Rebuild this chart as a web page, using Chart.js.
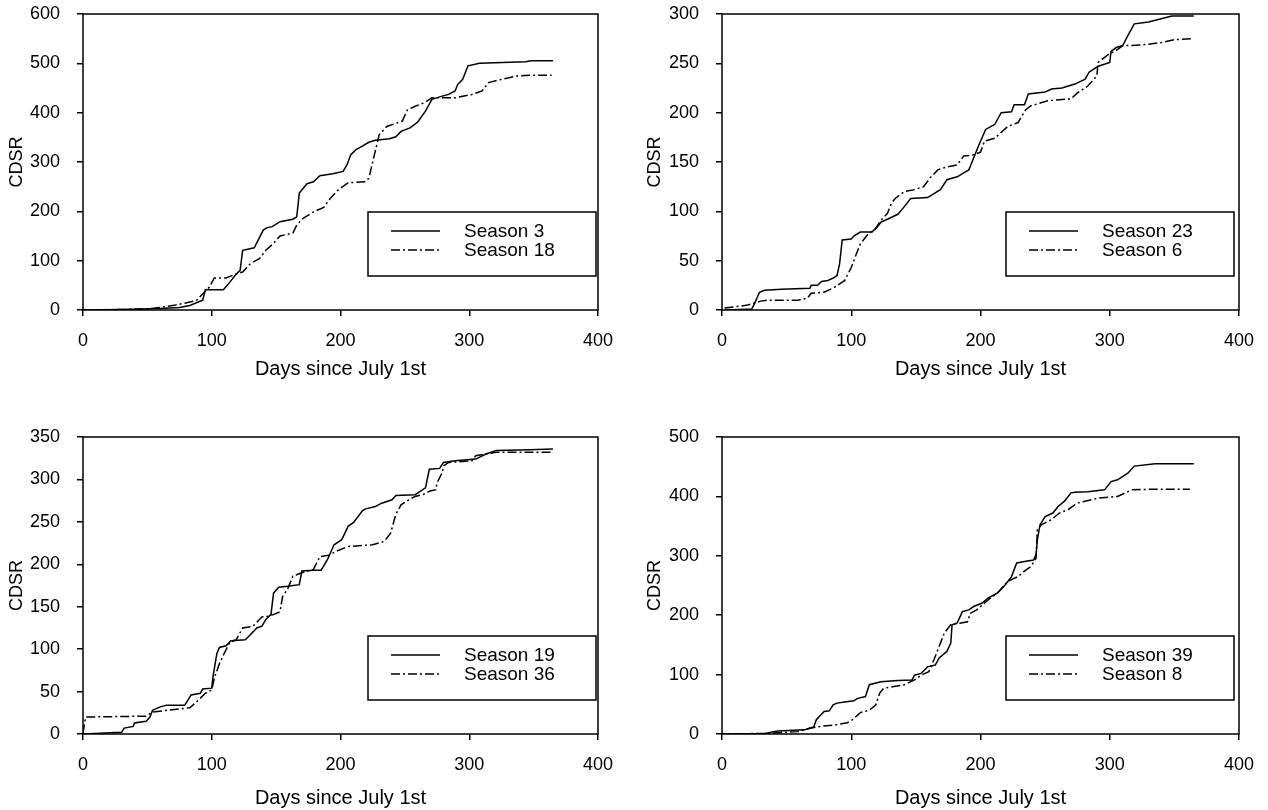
<!DOCTYPE html>
<html><head><meta charset="utf-8">
<script src="https://cdn.jsdelivr.net/npm/chart.js@4.4.0/dist/chart.umd.min.js"></script>
<style>
html,body{margin:0;padding:0;background:#fff;}
body{width:1268px;height:810px;position:relative;overflow:hidden;}
.panel{position:absolute;width:634px;height:405px;}
</style></head><body>
<div class="panel" style="left:0;top:0"><canvas id="c1" width="634" height="405"></canvas></div>
<div class="panel" style="left:634px;top:0"><canvas id="c2" width="634" height="405"></canvas></div>
<div class="panel" style="left:0;top:405px"><canvas id="c3" width="634" height="405"></canvas></div>
<div class="panel" style="left:634px;top:405px"><canvas id="c4" width="634" height="405"></canvas></div>
<script>
// ---------- data ----------
const xTicks = [0, 100, 200, 300, 400];
const xTitle = 'Days since July 1st';
const yTitle = 'CDSR';

// Panel 1
const p1Labels = ['Season 3', 'Season 18'];
const p1aDays = [0,30,60,75,83,93,95,109,113,119,122,124,133,140,143,147,153,163,166,168,174,179,184,194,202,205,208,212,217,222,227,238,243,247,254,260,266,271,277,284,289,291,295,299,308,344,348,365];
const p1aVals = [0,1,3,5,9,20,41,41,53,73,80,121,126,162,167,169,179,184,189,237,256,260,272,276,281,294,315,325,332,340,344,347,351,362,369,381,403,427,432,437,444,457,468,495,500,503,505,505];
const p1bDays = [0,30,49,60,72,88,98,102,111,119,124,130,137,142,148,153,163,166,171,179,187,192,198,206,219,222,226,230,236,248,252,258,265,271,289,302,310,315,326,336,347,364];
const p1bVals = [0,1,2,5,10,19,46,65,65,73,77,94,104,121,135,150,156,172,186,199,208,226,243,258,260,267,311,355,372,383,406,413,420,430,430,437,444,461,468,474,476,476];
const p1YMax = 600, p1YStep = 100;

// Panel 2
const p2Labels = ['Season 23', 'Season 6'];
const p2aDays = [2,23,25,29,33,46,68,69,74,77,82,87,89,91,93,100,102,107,116,120,123,128,136,140,146,159,164,169,174,182,187,191,195,199,204,211,216,224,226,234,237,250,255,263,273,281,284,291,300,301,305,310,314,319,330,336,348,365];
const p2aVals = [0,1,6,18,20,21,22,25,25,29,30,33,35,47,71,72,75,79,79,84,89,92,97,103,113,114,118,122,132,135,139,142,155,168,183,188,200,201,208,208,219,221,224,225,229,234,241,247,251,262,266,268,278,290,292,294,298,298];
const p2bDays = [2,20,30,35,59,66,69,79,87,95,100,104,107,113,118,123,128,131,134,141,149,156,161,167,174,182,187,194,200,203,211,221,229,235,239,252,270,275,283,290,291,299,306,310,317,327,340,350,363];
const p2bVals = [2,5,9,10,10,12,17,18,23,30,43,57,67,77,81,91,98,108,113,120,122,125,134,142,145,147,156,157,160,171,174,186,190,203,207,212,214,220,227,237,251,259,264,268,268,269,271,274,275];
const p2YMax = 300, p2YStep = 50;

// Panel 3
const p3Labels = ['Season 19', 'Season 36'];
const p3aDays = [0,13,30,32,39,40,49,52,54,60,65,79,84,91,93,100,101,104,106,111,115,126,130,135,139,142,146,148,152,159,168,170,179,185,190,195,201,206,210,217,219,227,232,240,243,258,266,269,277,280,289,305,313,321,347,365];
const p3aVals = [0,1,2,7,9,13,15,20,28,32,34,34,46,48,53,54,68,95,102,104,110,111,117,125,127,135,141,166,173,174,176,192,193,193,206,223,229,245,249,263,265,268,272,276,281,282,290,312,313,320,322,324,330,334,335,336];
const p3bDays = [0,2,49,52,54,78,83,89,95,100,102,106,110,114,119,124,132,139,145,153,155,159,163,170,179,184,192,196,206,225,234,239,243,247,253,258,264,269,274,275,279,280,284,302,305,313,321,364];
const p3bVals = [1,20,21,24,26,30,31,39,48,52,66,83,96,108,111,125,127,138,139,144,162,171,186,190,194,209,211,215,221,223,227,237,259,270,276,280,282,286,288,296,308,316,320,322,328,330,332,332];
const p3YMax = 350, p3YStep = 50;

// Panel 4
const p4Labels = ['Season 39', 'Season 8'];
const p4aDays = [0,33,43,64,68,71,73,79,83,86,89,95,102,105,111,114,123,136,147,149,154,159,165,168,174,177,178,182,186,191,195,201,206,213,219,224,228,233,241,243,244,246,250,256,260,265,270,273,283,296,301,306,314,319,335,365];
const p4aVals = [0,1,5,7,10,12,24,38,39,49,52,54,56,60,63,83,88,90,91,99,102,113,116,128,139,153,184,187,206,209,215,220,229,237,251,265,288,290,293,302,327,352,366,372,383,392,406,407,408,411,425,428,439,451,455,455];
const p4bDays = [0,33,59,69,77,87,97,101,107,114,119,122,125,133,141,149,154,160,164,169,172,177,185,190,192,197,206,213,221,229,235,239,243,244,247,255,261,268,275,281,291,306,312,317,332,362];
const p4bVals = [0,1,4,10,13,15,19,24,36,40,49,69,77,80,83,91,99,105,125,153,170,184,187,189,203,209,226,237,257,265,276,282,296,344,352,361,372,378,389,392,397,400,406,411,412,412];
const p4YMax = 500, p4YStep = 100;

// ---------- drawing ----------
const FONT = '"Liberation Sans", Arial, Helvetica, sans-serif';
Chart.defaults.font.family = FONT;
Chart.defaults.color = '#000';

const DASHDOT = [9, 3, 2, 3];

const framePlugin = {
  id: 'frameBox',
  afterDatasetsDraw(chart) {
    const {ctx, chartArea: a} = chart;
    ctx.save();
    ctx.strokeStyle = '#000';
    ctx.lineWidth = 1.5;
    ctx.strokeRect(a.left, a.top, a.right - a.left, a.bottom - a.top);
    ctx.restore();
  }
};

const boxLegendPlugin = {
  id: 'boxLegend',
  afterDraw(chart, args, opts) {
    const {ctx, chartArea: a} = chart;
    const w = opts.width, h = opts.height;
    const left = a.right - opts.rightGap - w;
    const top = a.bottom - opts.bottomGap - h;
    ctx.save();
    ctx.fillStyle = '#fff';
    ctx.fillRect(left, top, w, h);
    ctx.strokeStyle = '#000';
    ctx.lineWidth = 1.5;
    ctx.strokeRect(left, top, w, h);
    ctx.font = opts.fontSize + 'px ' + FONT;
    ctx.textBaseline = 'middle';
    ctx.textAlign = 'left';
    chart.data.datasets.forEach((ds, i) => {
      const y = top + opts.rowY[i];
      ctx.beginPath();
      ctx.setLineDash(ds.borderDash || []);
      ctx.lineWidth = 1.5;
      ctx.strokeStyle = '#000';
      ctx.moveTo(left + opts.lineX0, y);
      ctx.lineTo(left + opts.lineX1, y);
      ctx.stroke();
      ctx.setLineDash([]);
      ctx.fillStyle = '#000';
      ctx.fillText(ds.label, left + opts.textX, y + 1);
    });
    ctx.restore();
  }
};

function pts(days, vals) { return days.map((d, i) => ({x: d, y: vals[i]})); }

function makePanel(id, labels, aD, aV, bD, bV, yMax, yStep, lay) {
  new Chart(document.getElementById(id), {
    type: 'line',
    data: {
      datasets: [
        {label: labels[0], data: pts(aD, aV), borderColor: '#000', borderWidth: 1.5, pointRadius: 0, tension: 0, fill: false},
        {label: labels[1], data: pts(bD, bV), borderColor: '#000', borderWidth: 1.5, borderDash: DASHDOT, pointRadius: 0, tension: 0, fill: false}
      ]
    },
    options: {
      responsive: false,
      animation: false,
      events: [],
      layout: {padding: {left: 0, top: lay.top, right: lay.right, bottom: 0}},
      plugins: {
        legend: {display: false},
        tooltip: {enabled: false},
        boxLegend: {width: 228, height: 64, rightGap: lay.legRight, bottomGap: 34,
          rowY: [19, 38], lineX0: 23, lineX1: 72, textX: 96, fontSize: 19}
      },
      scales: {
        x: {
          type: 'linear', min: 0, max: 400,
          afterFit(s) { s.height = lay.xH; s.paddingLeft = 0; s.paddingRight = 0; },
          afterBuildTicks(s) { s.ticks = xTicks.map(v => ({value: v})); },
          ticks: {font: {size: 18}, color: '#000', padding: 14, maxRotation: 0},
          grid: {display: true, drawOnChartArea: false, drawTicks: true, tickLength: 6, color: '#000', tickColor: '#000', lineWidth: 1.5},
          border: {display: false},
          title: {display: true, text: xTitle, font: {size: 20}, color: '#000', padding: {top: 0, bottom: lay.xTitlePad}}
        },
        y: {
          type: 'linear', min: 0, max: yMax,
          afterFit(s) { s.width = lay.yW; s.paddingTop = 0; s.paddingBottom = 0; },
          ticks: {stepSize: yStep, font: {size: 18}, color: '#000', padding: 17},
          grid: {display: true, drawOnChartArea: false, drawTicks: true, tickLength: 6, color: '#000', tickColor: '#000', lineWidth: 1.5},
          border: {display: false},
          title: {display: true, text: yTitle, font: {size: 18}, color: '#000', padding: {top: lay.yTitlePad, bottom: 0}}
        }
      }
    },
    plugins: [framePlugin, boxLegendPlugin]
  });
}

makePanel('c1', p1Labels, p1aDays, p1aVals, p1bDays, p1bVals, p1YMax, p1YStep,
  {top: 14, right: 36, xH: 95, yW: 83, xTitlePad: 24, yTitlePad: 6, legRight: 2});
makePanel('c2', p2Labels, p2aDays, p2aVals, p2bDays, p2bVals, p2YMax, p2YStep,
  {top: 14, right: 29, xH: 95, yW: 88, xTitlePad: 24, yTitlePad: 10, legRight: 5});
makePanel('c3', p3Labels, p3aDays, p3aVals, p3bDays, p3bVals, p3YMax, p3YStep,
  {top: 32, right: 36, xH: 76, yW: 83, xTitlePad: 0, yTitlePad: 6, legRight: 2});
makePanel('c4', p4Labels, p4aDays, p4aVals, p4bDays, p4bVals, p4YMax, p4YStep,
  {top: 32, right: 29, xH: 76, yW: 88, xTitlePad: 0, yTitlePad: 10, legRight: 5});
</script>
</body></html>
